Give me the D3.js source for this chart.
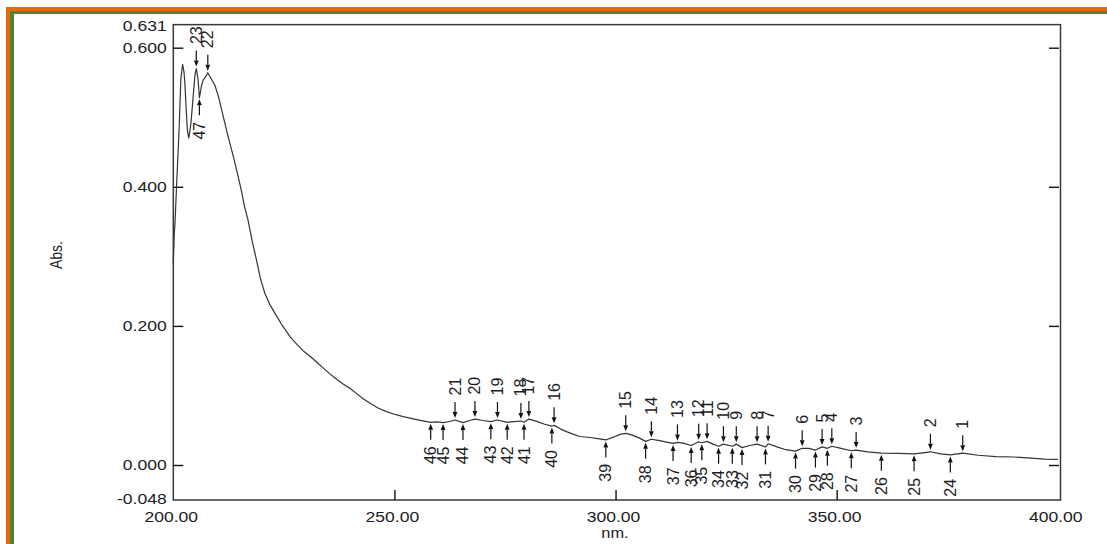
<!DOCTYPE html>
<html>
<head>
<meta charset="utf-8">
<script src="https://cdn.jsdelivr.net/npm/d3@7"></script>
<style>
  html, body { margin: 0; padding: 0; background: #fff; }
  svg { display: block; }
  text { font-family: "Liberation Sans", Arial, sans-serif; fill: #1c1c24; }
</style>
</head>
<body>
<svg id="chart" width="1107" height="544"></svg>
<script>
// UV absorbance spectrum: [wavelength nm, absorbance]
const spectrum = [
  [200.0,0.290],[200.2,0.330],[200.4,0.350],[200.8,0.410],[201.3,0.480],[201.7,0.554],
  [202.1,0.576],[202.4,0.566],[202.6,0.551],[202.9,0.513],[203.2,0.480],[203.5,0.470],
  [204.0,0.492],[204.5,0.530],[204.9,0.561],[205.2,0.570],[205.6,0.554],[205.9,0.528],
  [206.4,0.546],[206.8,0.554],[207.3,0.558],[207.8,0.564],[208.7,0.554],[209.4,0.546],
  [210.2,0.530],[211.3,0.501],[212.4,0.472],[213.6,0.443],[214.7,0.414],[215.4,0.394],
  [216.1,0.372],[216.9,0.352],[217.8,0.323],[218.8,0.295],[219.7,0.268],[220.7,0.247],
  [221.8,0.231],[223.0,0.218],[224.6,0.201],[226.4,0.1845],[228.0,0.173],[229.4,0.164],
  [231.0,0.156],[232.4,0.148],[234.0,0.139],[235.4,0.131],[237.0,0.123],[238.4,0.1165],
  [240.0,0.110],[241.4,0.103],[243.0,0.095],[244.5,0.0887],[246.3,0.082],[248.2,0.0767],
  [250.0,0.073],[252.0,0.0695],[254.5,0.066],[257.3,0.0623],[258.2,0.0614],[259.6,0.062],
  [261.0,0.061],[262.5,0.0625],[263.7,0.0647],[265.5,0.061],[267.0,0.064],[268.2,0.066],
  [270.0,0.064],[271.8,0.0623],[273.3,0.0647],[275.5,0.0614],[277.0,0.0625],[278.6,0.0633],
  [279.3,0.0614],[280.4,0.066],[282.0,0.063],[283.8,0.059],[285.6,0.056],[286.1,0.057],
  [287.5,0.052],[288.9,0.048],[290.5,0.044],[291.9,0.041],[294.2,0.0395],[296.0,0.038],
  [297.8,0.036],[299.5,0.040],[301.0,0.044],[302.3,0.0455],[303.8,0.043],[305.3,0.039],
  [306.8,0.034],[308.1,0.037],[310.0,0.035],[311.5,0.033],[313.0,0.031],[314.0,0.0325],
  [315.5,0.031],[317.1,0.028],[318.8,0.0335],[319.5,0.032],[320.7,0.034],[322.0,0.030],
  [323.3,0.027],[324.4,0.030],[326.4,0.027],[327.3,0.030],[328.6,0.025],[330.3,0.028],
  [332.0,0.030],[333.9,0.026],[334.5,0.0305],[336.5,0.026],[338.5,0.022],[340.7,0.020],
  [342.2,0.024],[343.7,0.024],[345.2,0.0215],[346.7,0.026],[347.9,0.024],[348.9,0.027],
  [351.0,0.024],[353.3,0.0205],[354.4,0.0215],[357.0,0.019],[360.1,0.017],[364.0,0.0168],
  [367.5,0.016],[369.5,0.0175],[371.2,0.019],[373.5,0.016],[375.7,0.0145],[378.5,0.017],
  [382.0,0.014],[386.0,0.012],[390.0,0.0115],[394.0,0.010],[397.0,0.0085],[400.0,0.008]
];

// Picked peaks (arrow from above) and valleys (arrow from below): [number, nm]
const peaks = [
  [1,378.5],[2,371.2],[3,354.4],[4,348.9],[5,346.7],[6,342.2],[7,334.5],[8,332.0],
  [9,327.3],[10,324.4],[11,320.7],[12,318.8],[13,314.0],[14,308.1],[15,302.3],[16,286.1],
  [17,280.4],[18,278.6],[19,273.3],[20,268.2],[21,263.7],[22,207.8],[23,205.2]
];
const valleys = [
  [24,375.7],[25,367.5],[26,360.1],[27,353.3],[28,347.9],[29,345.2],[30,340.7],[31,333.9],
  [32,328.6],[33,326.4],[34,323.3],[35,319.5],[36,317.1],[37,313.0],[38,306.8],[39,297.8],
  [40,285.6],[41,279.3],[42,275.5],[43,271.8],[44,265.5],[45,261.0],[46,258.2],[47,205.9]
];

const xTickValues = [200, 250, 300, 350, 400];
const yLabelValues = [-0.048, 0.000, 0.200, 0.400, 0.600, 0.631];
const yTickMarks = [0.000, 0.200, 0.400, 0.600];
const xTitle = "nm.";
const yTitle = "Abs.";

const svg = d3.select("#chart");
const STRETCH = 1.17;

// page border (orange outer, green inner)
svg.append("rect").attr("x", 6).attr("y", 7).attr("width", 1101).attr("height", 4).attr("fill", "#E36C0A");
svg.append("rect").attr("x", 6).attr("y", 7).attr("width", 4).attr("height", 537).attr("fill", "#E36C0A");
svg.append("rect").attr("x", 10).attr("y", 11).attr("width", 1097).attr("height", 3).attr("fill", "#538135");
svg.append("rect").attr("x", 10).attr("y", 11).attr("width", 4).attr("height", 533).attr("fill", "#538135");

const x = d3.scaleLinear().domain([200, 400]).range([173.3, 1057.8]);
const y = d3.scaleLinear().domain([0, 0.6]).range([465, 47.7]);

const frameL = 173.3, frameR = 1060.5, frameT = y(0.631) - 1.5, frameB = 500;

// plot frame
svg.append("rect")
  .attr("x", frameL).attr("y", frameT)
  .attr("width", frameR - frameL).attr("height", frameB - frameT)
  .attr("fill", "none").attr("stroke", "#3a3a3a").attr("stroke-width", 1.5);

// inward tick marks on left, right and bottom
const tickStyle = g => {
  g.select(".domain").remove();
  g.selectAll(".tick line").attr("stroke", "#111").attr("stroke-width", 1.4);
};
svg.append("g").attr("transform", `translate(${frameL},0)`)
  .call(d3.axisLeft(y).tickValues(yTickMarks).tickSize(-10).tickFormat(""))
  .call(tickStyle);
svg.append("g").attr("transform", `translate(${frameR - 1.5},0)`)
  .call(d3.axisRight(y).tickValues(yTickMarks).tickSize(-10).tickFormat(""))
  .call(tickStyle);
svg.append("g").attr("transform", `translate(0,${frameB})`)
  .call(d3.axisBottom(x).tickValues([250, 300, 350]).tickSize(-10).tickFormat(""))
  .call(tickStyle);

// y tick labels
const yLab = svg.append("g").attr("transform", `translate(${frameL},0)`)
  .call(d3.axisLeft(y).tickValues(yLabelValues).tickSize(0).tickPadding(5.6)
    .tickFormat(d => d.toFixed(3)));
yLab.select(".domain").remove();
yLab.selectAll(".tick text")
  .attr("font-size", 15).attr("font-family", "Liberation Sans, Arial, sans-serif")
  .attr("fill", "#1c1c24").attr("transform", `scale(${STRETCH},1)`);

// x tick labels
const xLab = svg.append("g").attr("transform", `translate(0,${frameB})`)
  .call(d3.axisBottom(x).tickValues(xTickValues).tickSize(0).tickPadding(11.5)
    .tickFormat(d => d.toFixed(2)));
xLab.select(".domain").remove();
xLab.selectAll(".tick text")
  .attr("font-size", 15).attr("font-family", "Liberation Sans, Arial, sans-serif")
  .attr("fill", "#1c1c24").attr("transform", `translate(-2.5,0) scale(${STRETCH},1)`);

// axis titles
svg.append("text")
  .attr("transform", `translate(615,538) scale(${STRETCH},1)`)
  .attr("text-anchor", "middle").attr("font-size", 14).text(xTitle);
svg.append("text")
  .attr("transform", `translate(62,255) scale(${STRETCH},1) rotate(-90)`)
  .attr("text-anchor", "middle").attr("font-size", 14).text(yTitle);

// spectrum line
const line = d3.line().x(d => x(d[0])).y(d => y(d[1]));
svg.append("path").datum(spectrum)
  .attr("d", line).attr("fill", "none")
  .attr("stroke", "#333").attr("stroke-width", 1.2).attr("stroke-linejoin", "round");

// absorbance at a given wavelength from the spectrum
const bis = d3.bisector(d => d[0]).left;
function absAt(nm) {
  const i = Math.max(1, Math.min(spectrum.length - 1, bis(spectrum, nm)));
  const a = spectrum[i - 1], b = spectrum[i];
  const t = (nm - a[0]) / (b[0] - a[0]);
  return a[1] + t * (b[1] - a[1]);
}

const ARROW = 16, HEAD = 6, HALF = 2.4, GAP = 6.5;
const ann = svg.append("g");

function drawArrow(px, tipY, dir) {
  // dir = +1 arrow pointing down (from above), -1 pointing up (from below)
  const tailY = tipY - dir * ARROW;
  ann.append("line")
    .attr("x1", px).attr("x2", px)
    .attr("y1", tailY).attr("y2", tipY - dir * HEAD)
    .attr("stroke", "#111").attr("stroke-width", 1.2);
  ann.append("path")
    .attr("d", `M${px},${tipY} L${px - HALF},${tipY - dir * HEAD} L${px + HALF},${tipY - dir * HEAD} Z`)
    .attr("fill", "#111");
  return tailY;
}

peaks.forEach(([n, nm]) => {
  const px = x(nm), cy = y(absAt(nm));
  const tail = drawArrow(px, cy - 2, 1);
  ann.append("text")
    .attr("transform", `translate(${px},${tail - GAP}) rotate(-90)`)
    .attr("text-anchor", "start").attr("dominant-baseline", "central")
    .attr("font-size", 16).text(n);
});

valleys.forEach(([n, nm]) => {
  const px = x(nm), cy = y(absAt(nm));
  const tail = drawArrow(px, cy + 1.5, -1);
  ann.append("text")
    .attr("transform", `translate(${px},${tail + GAP}) rotate(-90)`)
    .attr("text-anchor", "end").attr("dominant-baseline", "central")
    .attr("font-size", 16).text(n);
});
</script>
</body>
</html>
